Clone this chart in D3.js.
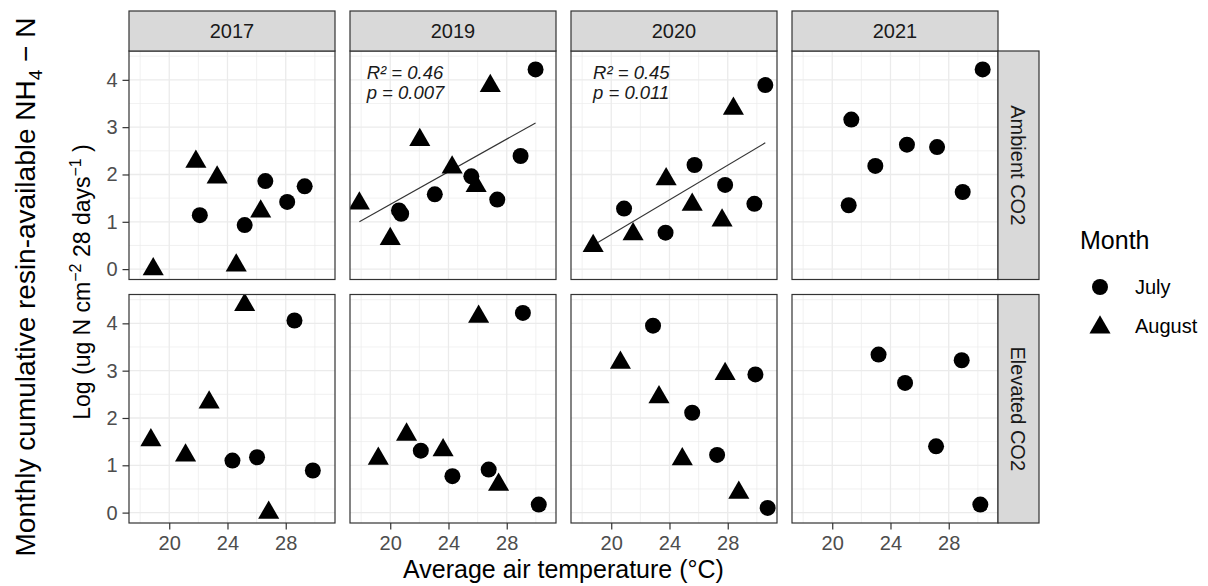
<!DOCTYPE html>
<html>
<head>
<meta charset="utf-8">
<script src="https://cdn.jsdelivr.net/npm/d3@7"></script>
<style>
body { margin: 0; background: #fff; }
text { font-family: "Liberation Sans", Arial, sans-serif; }
</style>
</head>
<body>
<script>
// facets
const years = ["2017", "2019", "2020", "2021"];
const treatments = ["Ambient CO2", "Elevated CO2"];
const months = ["July", "August"];
const xTicks = [20, 24, 28];
const xMinor = [18, 22, 26, 30];
const yTicks = [0, 1, 2, 3, 4];
const yMinor = [0.5, 1.5, 2.5, 3.5, 4.5];

// [year, treatment, air temperature, log N]
const julyPoints = [
  ["2017", "Ambient CO2", 22.1, 1.14], ["2017", "Ambient CO2", 25.18, 0.93], ["2017", "Ambient CO2", 26.6, 1.86],
  ["2017", "Ambient CO2", 28.1, 1.42], ["2017", "Ambient CO2", 29.3, 1.75],
  ["2019", "Ambient CO2", 20.6, 1.24], ["2019", "Ambient CO2", 20.75, 1.17], ["2019", "Ambient CO2", 23.06, 1.58],
  ["2019", "Ambient CO2", 25.57, 1.96], ["2019", "Ambient CO2", 27.35, 1.47], ["2019", "Ambient CO2", 28.95, 2.39],
  ["2019", "Ambient CO2", 29.98, 4.22],
  ["2020", "Ambient CO2", 20.88, 1.28], ["2020", "Ambient CO2", 23.73, 0.77], ["2020", "Ambient CO2", 25.72, 2.2],
  ["2020", "Ambient CO2", 27.82, 1.78], ["2020", "Ambient CO2", 29.83, 1.38], ["2020", "Ambient CO2", 30.58, 3.89],
  ["2021", "Ambient CO2", 21.13, 1.35], ["2021", "Ambient CO2", 21.31, 3.16], ["2021", "Ambient CO2", 22.96, 2.18],
  ["2021", "Ambient CO2", 25.13, 2.63], ["2021", "Ambient CO2", 27.2, 2.58], ["2021", "Ambient CO2", 28.96, 1.63],
  ["2021", "Ambient CO2", 30.33, 4.22],
  ["2017", "Elevated CO2", 24.34, 1.1], ["2017", "Elevated CO2", 26.03, 1.17], ["2017", "Elevated CO2", 28.6, 4.06],
  ["2017", "Elevated CO2", 29.86, 0.89],
  ["2019", "Elevated CO2", 22.1, 1.31], ["2019", "Elevated CO2", 24.27, 0.77], ["2019", "Elevated CO2", 26.76, 0.91],
  ["2019", "Elevated CO2", 29.11, 4.22], ["2019", "Elevated CO2", 30.2, 0.17],
  ["2020", "Elevated CO2", 22.87, 3.95], ["2020", "Elevated CO2", 25.56, 2.11], ["2020", "Elevated CO2", 27.27, 1.22],
  ["2020", "Elevated CO2", 29.9, 2.92], ["2020", "Elevated CO2", 30.74, 0.10],
  ["2021", "Elevated CO2", 23.18, 3.34], ["2021", "Elevated CO2", 25.0, 2.74], ["2021", "Elevated CO2", 27.13, 1.40],
  ["2021", "Elevated CO2", 28.89, 3.22], ["2021", "Elevated CO2", 30.17, 0.17]
];

const augustPoints = [
  ["2017", "Ambient CO2", 18.9, 0.0], ["2017", "Ambient CO2", 21.83, 2.27], ["2017", "Ambient CO2", 23.29, 1.94],
  ["2017", "Ambient CO2", 24.6, 0.08], ["2017", "Ambient CO2", 26.28, 1.22],
  ["2019", "Ambient CO2", 17.88, 1.39], ["2019", "Ambient CO2", 20.0, 0.64], ["2019", "Ambient CO2", 22.03, 2.73],
  ["2019", "Ambient CO2", 24.25, 2.15], ["2019", "Ambient CO2", 25.9, 1.76], ["2019", "Ambient CO2", 26.87, 3.87],
  ["2020", "Ambient CO2", 18.76, 0.49], ["2020", "Ambient CO2", 21.5, 0.74], ["2020", "Ambient CO2", 23.77, 1.90],
  ["2020", "Ambient CO2", 25.56, 1.36], ["2020", "Ambient CO2", 27.61, 1.03], ["2020", "Ambient CO2", 28.39, 3.39],
  ["2017", "Elevated CO2", 18.74, 1.53], ["2017", "Elevated CO2", 21.12, 1.21], ["2017", "Elevated CO2", 22.74, 2.33],
  ["2017", "Elevated CO2", 25.18, 4.39], ["2017", "Elevated CO2", 26.83, 0.0],
  ["2019", "Elevated CO2", 19.18, 1.14], ["2019", "Elevated CO2", 21.12, 1.65], ["2019", "Elevated CO2", 23.63, 1.32],
  ["2019", "Elevated CO2", 26.07, 4.14], ["2019", "Elevated CO2", 27.44, 0.59],
  ["2020", "Elevated CO2", 20.63, 3.17], ["2020", "Elevated CO2", 23.28, 2.44], ["2020", "Elevated CO2", 24.88, 1.13],
  ["2020", "Elevated CO2", 27.82, 2.93], ["2020", "Elevated CO2", 28.76, 0.42]
];

// fitted lines [year, treatment, x0, y0, x1, y1]
const fitLines = [
  ["2019", "Ambient CO2", 17.88, 1.0, 29.98, 3.09],
  ["2020", "Ambient CO2", 18.76, 0.505, 30.58, 2.67]
];

// stats labels [year, treatment, line1, line2, x, y]
const statLabels = [
  ["2019", "Ambient CO2", "R² = 0.46", "p = 0.007", 18.38, 4.02],
  ["2020", "Ambient CO2", "R² = 0.45", "p = 0.011", 18.75, 4.02]
];

// layout
var width = 1208, height = 586;
var panelLeft = 129, panelTop = 51, panelW = 206, panelH = 228.5, gap = 15, stripH = 40;

var allPoints = julyPoints.map(function(d){ return {month: "July", year: d[0], trt: d[1], x: d[2], y: d[3]}; })
  .concat(augustPoints.map(function(d){ return {month: "August", year: d[0], trt: d[1], x: d[2], y: d[3]}; }));

var xExt = d3.extent(allPoints, function(d){ return d.x; });
var yExt = d3.extent(allPoints, function(d){ return d.y; });
var xPad = (xExt[1] - xExt[0]) * 0.05, yPad = (yExt[1] - yExt[0]) * 0.05;

var xScale = d3.scaleLinear().domain([xExt[0] - xPad, xExt[1] + xPad]).range([0, panelW]);
var yScale = d3.scaleLinear().domain([yExt[0] - yPad, yExt[1] + yPad]).range([panelH, 0]);

var shapes = d3.scaleOrdinal().domain(months).range([d3.symbolCircle, d3.symbolTriangle]);
var sizes = d3.scaleOrdinal().domain(months).range([201, 193]);

var svg = d3.select("body").append("svg")
  .attr("width", width)
  .attr("height", height);

svg.append("rect").attr("width", width).attr("height", height).attr("fill", "#fff");

var defs = svg.append("defs");
defs.append("clipPath").attr("id", "panel-clip")
  .append("rect").attr("width", panelW).attr("height", panelH);

treatments.forEach(function(trt, r){
  years.forEach(function(yr, c){
    var g = svg.append("g")
      .attr("transform", "translate(" + (panelLeft + c * (panelW + gap)) + "," + (panelTop + r * (panelH + gap)) + ")");

    g.append("rect").attr("width", panelW).attr("height", panelH).attr("fill", "#fff");

    // grid
    g.selectAll(".xminor").data(xMinor).enter().append("line")
      .attr("x1", function(d){ return xScale(d); }).attr("x2", function(d){ return xScale(d); })
      .attr("y1", 0).attr("y2", panelH)
      .attr("stroke", "#ebebeb").attr("stroke-width", 0.7);
    g.selectAll(".yminor").data(yMinor).enter().append("line")
      .attr("y1", function(d){ return yScale(d); }).attr("y2", function(d){ return yScale(d); })
      .attr("x1", 0).attr("x2", panelW)
      .attr("stroke", "#ebebeb").attr("stroke-width", 0.7);
    g.selectAll(".xmajor").data(xTicks).enter().append("line")
      .attr("x1", function(d){ return xScale(d); }).attr("x2", function(d){ return xScale(d); })
      .attr("y1", 0).attr("y2", panelH)
      .attr("stroke", "#ebebeb").attr("stroke-width", 1.3);
    g.selectAll(".ymajor").data(yTicks).enter().append("line")
      .attr("y1", function(d){ return yScale(d); }).attr("y2", function(d){ return yScale(d); })
      .attr("x1", 0).attr("x2", panelW)
      .attr("stroke", "#ebebeb").attr("stroke-width", 1.3);

    var plot = g.append("g").attr("clip-path", "url(#panel-clip)");

    // fitted line
    fitLines.filter(function(f){ return f[0] === yr && f[1] === trt; }).forEach(function(f){
      plot.append("line")
        .attr("x1", xScale(f[2])).attr("y1", yScale(f[3]))
        .attr("x2", xScale(f[4])).attr("y2", yScale(f[5]))
        .attr("stroke", "#333").attr("stroke-width", 1.1);
    });

    // points
    plot.selectAll(".pt")
      .data(allPoints.filter(function(d){ return d.year === yr && d.trt === trt; }))
      .enter().append("path")
      .attr("transform", function(d){ return "translate(" + xScale(d.x) + "," + yScale(d.y) + ")"; })
      .attr("d", function(d){ return d3.symbol().type(shapes(d.month)).size(sizes(d.month))(); })
      .attr("fill", "#000");

    // stats text
    statLabels.filter(function(s){ return s[0] === yr && s[1] === trt; }).forEach(function(s){
      var t = g.append("text")
        .attr("x", xScale(s[4])).attr("y", yScale(s[5]))
        .attr("font-style", "italic").attr("font-size", "18.5px").attr("fill", "#1a1a1a");
      t.append("tspan").attr("x", xScale(s[4])).text(s[2]);
      t.append("tspan").attr("x", xScale(s[4])).attr("dy", 20.5).text(s[3]);
    });

    // border
    g.append("rect").attr("width", panelW).attr("height", panelH)
      .attr("fill", "none").attr("stroke", "#333").attr("stroke-width", 1.2);

    // top strip
    if (r === 0) {
      g.append("rect").attr("y", -stripH).attr("width", panelW).attr("height", stripH)
        .attr("fill", "#d9d9d9").attr("stroke", "#333").attr("stroke-width", 1.2);
      g.append("text").attr("x", panelW / 2).attr("y", -stripH / 2).attr("dy", "0.36em")
        .attr("text-anchor", "middle").attr("font-size", "20px").attr("fill", "#1a1a1a")
        .text(yr);
    }
    // right strip
    if (c === years.length - 1) {
      g.append("rect").attr("x", panelW).attr("width", 41).attr("height", panelH)
        .attr("fill", "#d9d9d9").attr("stroke", "#333").attr("stroke-width", 1.2);
      g.append("text")
        .attr("transform", "translate(" + (panelW + 20.5) + "," + (panelH / 2) + ") rotate(90)")
        .attr("dy", "0.36em")
        .attr("text-anchor", "middle").attr("font-size", "20px").attr("fill", "#1a1a1a")
        .text(trt);
    }

    // axes
    if (c === 0) {
      var ya = g.append("g").call(d3.axisLeft(yScale).tickValues(yTicks).tickFormat(d3.format("d"))
        .tickSize(6.5).tickPadding(5));
      ya.select(".domain").remove();
      ya.selectAll("line").attr("stroke", "#333").attr("stroke-width", 1.2);
      ya.selectAll("text").attr("fill", "#4d4d4d").style("font-size", "20px")
        .style("font-family", "Liberation Sans, Arial, sans-serif");
    }
    if (r === treatments.length - 1) {
      var xa = g.append("g").attr("transform", "translate(0," + panelH + ")")
        .call(d3.axisBottom(xScale).tickValues(xTicks).tickFormat(d3.format("d"))
          .tickSize(6.5).tickPadding(6));
      xa.select(".domain").remove();
      xa.selectAll("line").attr("stroke", "#333").attr("stroke-width", 1.2);
      xa.selectAll("text").attr("fill", "#4d4d4d").style("font-size", "20px")
        .style("font-family", "Liberation Sans, Arial, sans-serif");
    }
  });
});

// x axis title
svg.append("text")
  .attr("x", panelLeft + (4 * panelW + 3 * gap) / 2)
  .attr("y", 578)
  .attr("text-anchor", "middle")
  .attr("font-size", "25px")
  .attr("fill", "#000")
  .text("Average air temperature (°C)");

// y axis title (two lines)
var yMid = panelTop + (2 * panelH + gap) / 2;
var yt1 = svg.append("text")
  .attr("transform", "translate(35," + yMid + ") rotate(-90)")
  .attr("text-anchor", "middle").attr("font-size", "28px").attr("fill", "#000");
yt1.append("tspan").text("Monthly cumulative resin-available  NH");
yt1.append("tspan").attr("font-size", "19px").attr("dy", 7).text("4");
yt1.append("tspan").attr("dy", -7).text(" \u2212 N");

var yt2 = svg.append("text")
  .attr("transform", "translate(90," + (yMid - 5) + ") rotate(-90)")
  .attr("text-anchor", "middle").attr("font-size", "23px").attr("fill", "#000");
yt2.append("tspan").text("Log (ug N cm");
yt2.append("tspan").attr("font-size", "16px").attr("dy", -9).text("\u22122");
yt2.append("tspan").attr("dy", 9).text(" 28 days");
yt2.append("tspan").attr("font-size", "16px").attr("dy", -9).text("\u22121");
yt2.append("tspan").attr("dy", 9).text(" )");

// legend
var legend = svg.append("g").attr("id", "legend");
legend.append("text").attr("x", 1080).attr("y", 249)
  .attr("font-size", "25px").attr("fill", "#000").text("Month");
var legendY = [287, 326];
months.forEach(function(m, i){
  legend.append("path")
    .attr("transform", "translate(1100," + (legendY[i] + (i === 1 ? 1.5 : 0)) + ")")
    .attr("d", d3.symbol().type(shapes(m)).size(sizes(m))())
    .attr("fill", "#000");
  legend.append("text").attr("x", 1135).attr("y", legendY[i]).attr("dy", "0.36em")
    .attr("font-size", "20px").attr("fill", "#000").text(m);
});
</script>
</body>
</html>
